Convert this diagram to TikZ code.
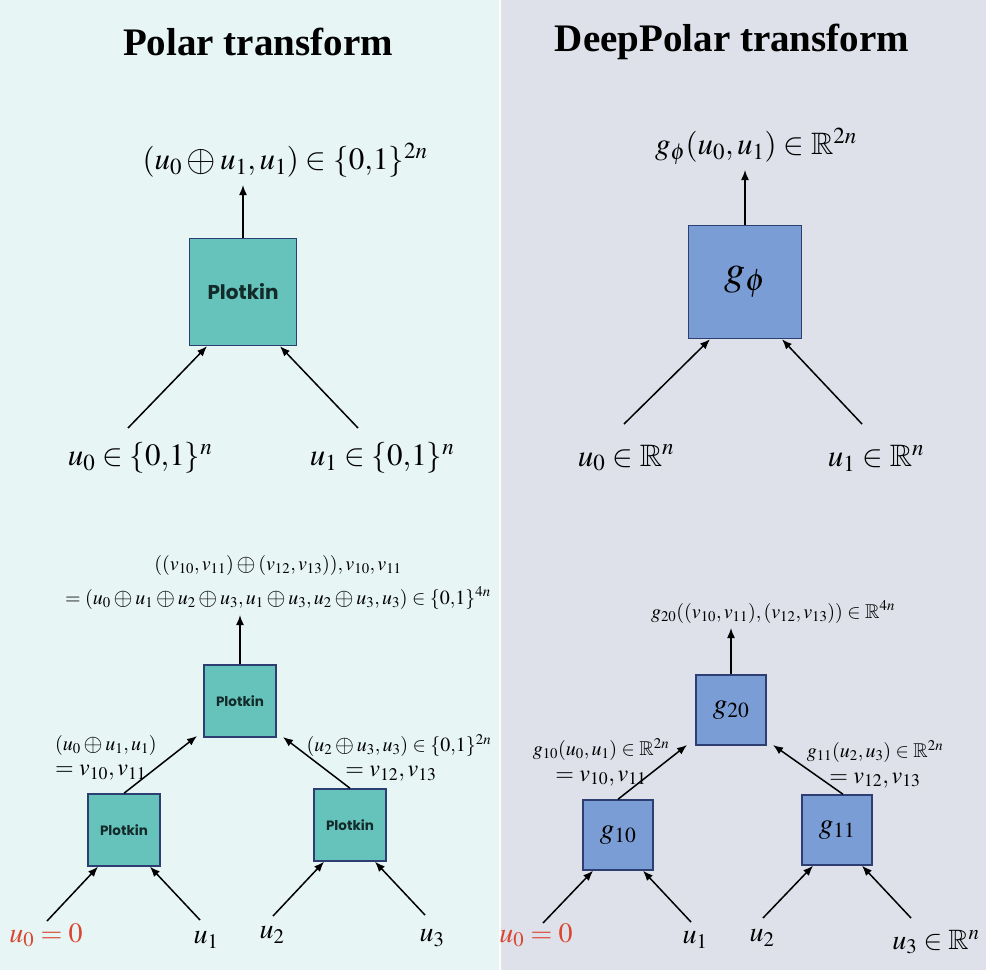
\documentclass[tikz,border=0pt]{standalone}
\usepackage{mathptmx}
\usepackage{amssymb}
\usepackage{graphicx}
\usepackage[no-math]{fontspec}
\newfontfamily\titlefont{Liberation Serif}
\newfontfamily\boxfont{Poppins}
\usetikzlibrary{arrows.meta,calc}
\newcommand{\bxor}{\mathbin{\vcenter{\hbox{\scalebox{1.22}{$\oplus$}}}}}
\definecolor{bgleft}{HTML}{E7F5F5}
\definecolor{bgright}{HTML}{DEE1EA}
\definecolor{teal}{HTML}{66C3BB}
\definecolor{bluebox}{HTML}{7A9DD6}
\definecolor{navy}{HTML}{2C3E72}
\definecolor{redlab}{HTML}{D9452F}
\definecolor{boxtext}{HTML}{132A2A}
\tikzset{
  box/.style={draw=navy, line width=1.5pt, inner sep=0pt, minimum size=#1},
  pbox/.style={box=#1, fill=teal, text=boxtext},
  gbox/.style={box=#1, fill=bluebox},
  arr/.style={line width=1.5pt, -{Latex[length=10pt,width=8pt]}},
  ttl/.style={inner sep=0pt, font=\titlefont\bfseries\fontsize{39}{44}\selectfont},
  big/.style={inner sep=0pt, font=\fontsize{31}{36}\selectfont},
  mid/.style={inner sep=0pt, font=\fontsize{28}{32}\selectfont},
  pair/.style={inner sep=0pt, font=\fontsize{20}{#1}\selectfont},
}
\newcommand{\eqline}[2]{{\fontsize{24}{#1}\selectfont$#2$}}
\begin{document}
\begin{tikzpicture}[x=1pt,y=-1pt]
\useasboundingbox (0,0) rectangle (986,970);
\fill[white] (0,0) rectangle (986,970);
\fill[bgleft] (0,0) rectangle (499,970);
\fill[bgright] (501,0) rectangle (986,970);

% titles
\node[ttl] (t1) at (258,42) {Polar transform};
\node[ttl] (t2) at (732,42) {DeepPolar transform};

% ---------- top left ----------
\node[pbox=107pt] (P) at (243,292) {\boxfont\bfseries\fontsize{20}{24}\selectfont Plotkin};
\node[big] (Pout) at (285,160) {$(u_0\bxor u_1, u_1)\in\{0{,}1\}^{2n}$};
\coordinate (Poutc) at (243,185);
\draw[arr] (P) -- (Poutc);
\node[big] (Pin0) at (140,458) {$u_0\in\{0{,}1\}^{n}$};
\node[big] (Pin1) at (382,458) {$u_1\in\{0{,}1\}^{n}$};
\coordinate (Pa0) at (128,428);
\coordinate (Pa1) at (358,428);
\draw[arr] (Pa0) -- ($(P.south)+(-36,0)$);
\draw[arr] (Pa1) -- ($(P.south)+(37,0)$);

% ---------- top right ----------
\node[gbox=113pt] (G) at (745,282) {\fontsize{42}{46}\selectfont$g_\phi$};
\node[big] (Gout) at (756,146) {$g_\phi(u_0, u_1)\in\mathbb{R}^{2n}$};
\coordinate (Goutc) at (745,170);
\draw[arr] (G) -- (Goutc);
\node[big] (Gin0) at (626,458) {$u_0\in\mathbb{R}^{n}$};
\node[big] (Gin1) at (876,458) {$u_1\in\mathbb{R}^{n}$};
\coordinate (Ga0) at (624,424);
\coordinate (Ga1) at (862,424);
\draw[arr] (Ga0) -- ($(G.south)+(-35,0)$);
\draw[arr] (Ga1) -- ($(G.south)+(37,0)$);

% ---------- bottom left ----------
\node[pbox=72pt] (P20) at (240,701) {\boxfont\bfseries\fontsize{13.5}{16}\selectfont Plotkin};
\node[pbox=72pt] (P10) at (124,830) {\boxfont\bfseries\fontsize{13.5}{16}\selectfont Plotkin};
\node[pbox=72pt] (P11) at (350,825) {\boxfont\bfseries\fontsize{13.5}{16}\selectfont Plotkin};
\node[pair=34, align=center] (L12) at (278,582)
  {$((v_{10}, v_{11})\bxor(v_{12}, v_{13})), v_{10}, v_{11}$\\
   $=(u_0\bxor u_1\bxor u_2\bxor u_3, u_1\bxor u_3, u_2\bxor u_3, u_3)\in\{0{,}1\}^{4n}$};
\coordinate (P20c) at (240,615);
\draw[arr] (P20) -- (P20c);
\coordinate (P20l) at (197,736);
\coordinate (P20r) at (283,737);
\draw[arr] (P10.north) -- (P20l);
\draw[arr] (P11.north) -- (P20r);
\node[pair=25, align=left, anchor=west] (L34) at (55,758)
  {$(u_0\bxor u_1, u_1)$\\\eqline{25}{=v_{10}, v_{11}}};
\node[pair=25, align=center] (L56) at (399,758)
  {$(u_2\bxor u_3, u_3)\in\{0{,}1\}^{2n}$\\\eqline{25}{=v_{12}, v_{13}}\hspace*{16pt}};
\node[mid, text=redlab] (B0) at (46,935) {$u_0=0$};
\node[mid] (B1) at (206,940) {$u_1$};
\node[mid] (B2) at (272,935) {$u_2$};
\node[mid] (B3) at (432,938) {$u_3$};
\coordinate (Ba0) at (47,921);
\coordinate (Ba1) at (200,920);
\coordinate (Ba2) at (273,916);
\coordinate (Ba3) at (425,915);
\draw[arr] (Ba0) -- ($(P10.south)+(-26,0)$);
\draw[arr] (Ba1) -- ($(P10.south)+(26,0)$);
\draw[arr] (Ba2) -- ($(P11.south)+(-26,0)$);
\draw[arr] (Ba3) -- ($(P11.south)+(25,0)$);

% ---------- bottom right ----------
\node[gbox=70pt] (G20) at (731,710) {\fontsize{29}{32}\selectfont$g_{20}$};
\node[gbox=70pt] (G10) at (618,835) {\fontsize{29}{32}\selectfont$g_{10}$};
\node[gbox=70pt] (G11) at (837,830) {\fontsize{29}{32}\selectfont$g_{11}$};
\node[pair=24] (R1) at (773,612) {$g_{20}((v_{10}, v_{11}), (v_{12}, v_{13}))\in\mathbb{R}^{4n}$};
\coordinate (G20c) at (731,628);
\draw[arr] (G20) -- (G20c);
\coordinate (G20l) at (687,745);
\coordinate (G20r) at (773,745);
\draw[arr] (G10.north) -- (G20l);
\draw[arr] ($(G11.north)+(6,0)$) -- (G20r);
\node[pair=26, align=center] (R34) at (601,762)
  {$g_{10}(u_0, u_1)\in\mathbb{R}^{2n}$\\\eqline{26}{=v_{10}, v_{11}}};
\node[pair=26, align=center] (R56) at (875,764)
  {$g_{11}(u_2, u_3)\in\mathbb{R}^{2n}$\\\eqline{26}{=v_{12}, v_{13}}};
\node[mid, text=redlab] (C0) at (536,935) {$u_0=0$};
\node[mid] (C1) at (695,940) {$u_1$};
\node[mid] (C2) at (762,938) {$u_2$};
\node[mid] (C3) at (936,942) {$u_3\in\mathbb{R}^{n}$};
\coordinate (Ca0) at (543,923);
\coordinate (Ca1) at (691,922);
\coordinate (Ca2) at (763,918);
\coordinate (Ca3) at (911,918);
\draw[arr] (Ca0) -- ($(G10.south)+(-25,0)$);
\draw[arr] (Ca1) -- ($(G10.south)+(25,0)$);
\draw[arr] (Ca2) -- ($(G11.south)+(-24,0)$);
\draw[arr] (Ca3) -- ($(G11.south)+(25,0)$);
\end{tikzpicture}
\end{document}
